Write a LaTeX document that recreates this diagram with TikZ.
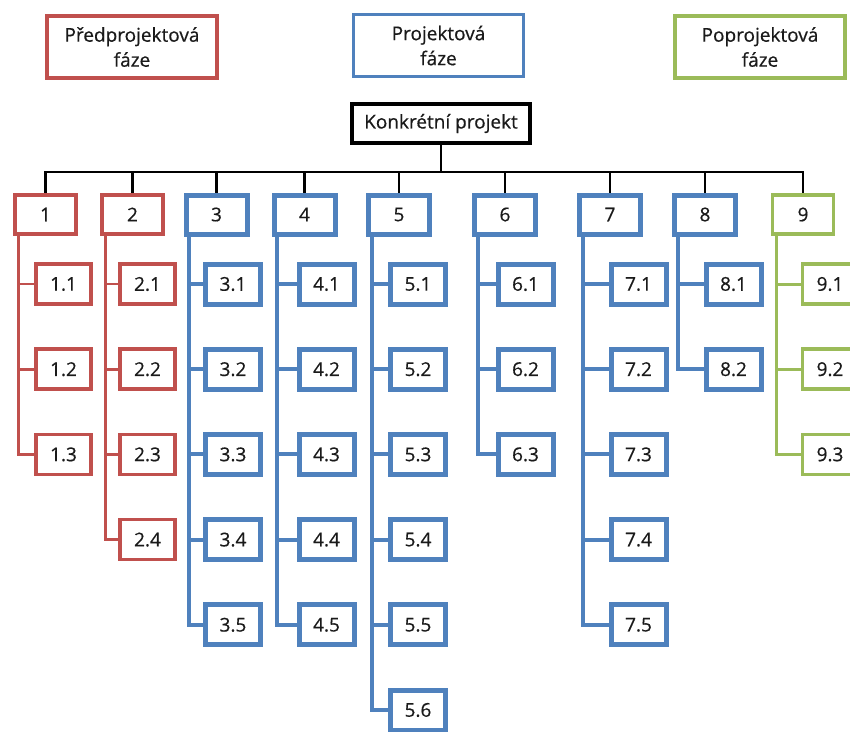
\documentclass[tikz,border=0pt]{standalone}
\usepackage{fontspec}
\setmainfont{Open Sans}[FakeBold=0.5]
\usetikzlibrary{shadows,backgrounds}
\definecolor{phasered}{HTML}{C0504D}
\definecolor{phaseblue}{HTML}{4F81BD}
\definecolor{phasegreen}{HTML}{9BBB59}
\definecolor{ink}{HTML}{1A1A1A}
\begin{document}
\begin{tikzpicture}[x=1pt,y=-1pt,
  font=\fontsize{19}{25}\selectfont,
  box/.style={draw, fill=white, rectangle, inner sep=0pt, text=ink, align=center,
    drop shadow={opacity=0.18, shadow xshift=1pt, shadow yshift=-1.2pt}},
  red-box/.style={box, draw=phasered, line width=3.5pt},
  blue-box/.style={box, draw=phaseblue, line width=5pt},
  green-box/.style={box, draw=phasegreen, line width=3.5pt},
  red-line/.style={draw=phasered, line width=2.6pt},
  blue-line/.style={draw=phaseblue, line width=4pt},
  green-line/.style={draw=phasegreen, line width=3pt},
  root-line/.style={draw=black, line width=2.5pt},
  legend/.style={minimum width=170pt, minimum height=62pt},
  lvl/.style={minimum width=61pt, minimum height=39pt},
  leaf/.style={minimum width=55pt, minimum height=40pt},
]
\useasboundingbox (0,0) rectangle (850,731);
\clip (0,0) rectangle (850,731);

% phase legend
\node[red-box, legend, line width=3.2pt] (lgpre) at (132,47) {Předprojektová\\fáze};
\node[blue-box, legend, line width=3.2pt] (lgproj) at (438.5,45.5) {Projektová\\fáze};
\node[green-box, legend, line width=3.2pt] (lgpost) at (760,47) {Poprojektová\\fáze};

% root of the breakdown
\node[box, draw=black, line width=4pt, minimum width=178pt, minimum height=39pt]
  (root) at (441,123.5) {Konkrétní projekt};
\coordinate (bar) at (440,172);

% work packages and their sub-packages
\foreach \i/\x/\cx/\n/\st in {1/45.5/63.5/3/red, 2/132.5/147.5/4/red,
    3/216.5/233/5/blue, 4/304.5/326.5/5/blue, 5/399/418/6/blue,
    6/505/525.5/3/blue, 7/610/638.5/5/blue, 8/705/733.5/2/blue,
    9/803/830/3/green} {
  \node[\st-box, lvl] (p\i) at (\x,214.5) {\i};
  \foreach \j in {1,...,\n} {
    \pgfmathsetmacro\yy{284+85.2*(\j-1)}
    \node[\st-box, leaf] (c\i-\j) at (\cx,\yy) {\i.\j};
    \begin{pgfonlayer}{background}
      \draw[\st-line] ([xshift=5.5pt]p\i.south west) |- (c\i-\j.west);
    \end{pgfonlayer}
  }
  \begin{pgfonlayer}{background}
    \draw[root-line] (p\i.north) -- (p\i.north |- bar);
  \end{pgfonlayer}
}

\begin{pgfonlayer}{background}
  \draw[root-line] (root.south) -- (root.south |- bar);
  \draw[root-line, line cap=rect] (p1.north |- bar) -- (p9.north |- bar);
\end{pgfonlayer}
\end{tikzpicture}
\end{document}
